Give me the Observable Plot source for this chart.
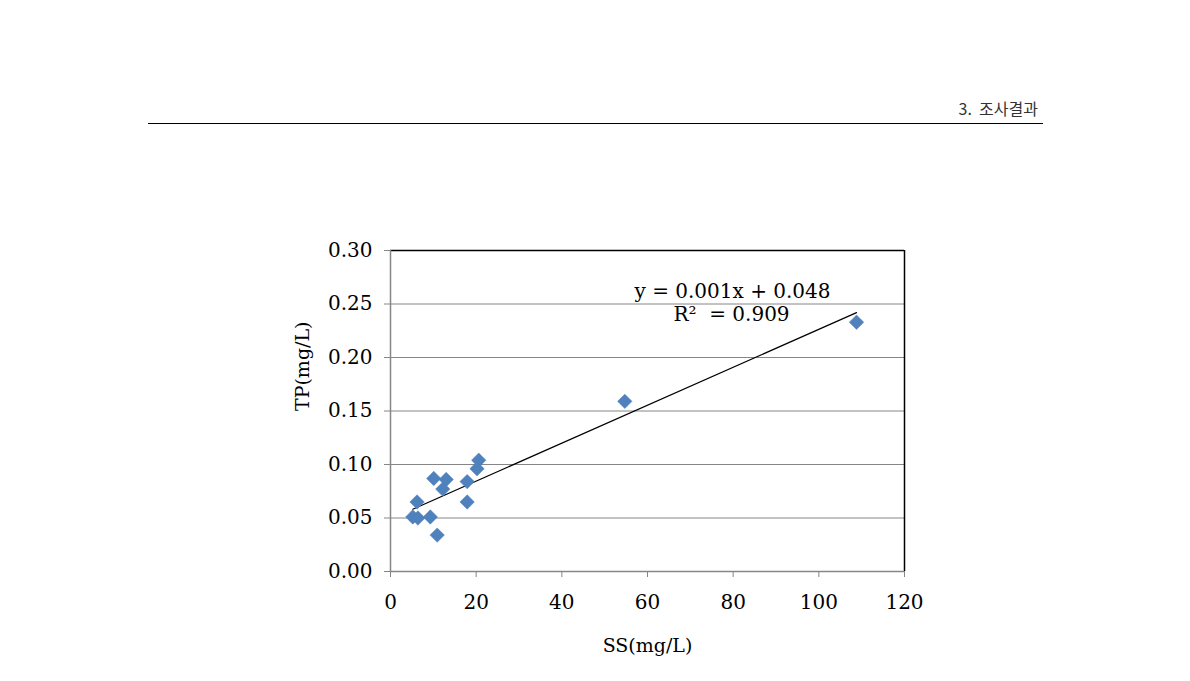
<!DOCTYPE html>
<html>
<head>
<meta charset="utf-8">
<script src="https://cdn.jsdelivr.net/npm/d3@7"></script>
<script src="https://cdn.jsdelivr.net/npm/@observablehq/plot@0.6"></script>
<style>
  html, body { margin: 0; padding: 0; background: #fff; }
  #wrap { position: relative; width: 1190px; height: 681px; }
  #hdr { position: absolute; left: 148px; top: 123px; width: 895px; height: 0; border-top: 1px solid #000; }
  #hdrText { position: absolute; right: 152px; top: 96px; font-family: "Noto Sans CJK KR", "Noto Sans", sans-serif; font-size: 16px; color: #333; white-space: pre; }
  svg { position: absolute; left: 0; top: 0; }
</style>
</head>
<body>
<div id="wrap">
  <div id="hdrText">3.  조사결과</div>
  <div id="hdr"></div>
</div>
<script>
const ss = [20.6, 20.2, 10.1, 13.0, 12.2, 17.9, 17.9, 6.2, 5.2, 6.4, 9.3, 10.9, 54.7, 108.8];
const tp = [0.104, 0.096, 0.087, 0.086, 0.077, 0.084, 0.065, 0.065, 0.051, 0.050, 0.051, 0.034, 0.159, 0.233];
const xTicks = [0, 20, 40, 60, 80, 100, 120];
const yTicks = [0, 0.05, 0.10, 0.15, 0.20, 0.25, 0.30];
const eqLabels = ["y = 0.001x + 0.048", "R\u00B2  = 0.909"];
const xTitle = "SS(mg/L)";
const yTitle = "TP(mg/L)";

const data = ss.map((x, i) => ({x, y: tp[i]}));
const serif = "'DejaVu Serif', 'Liberation Serif', serif";

const chart = Plot.plot({
  width: 1190,
  height: 681,
  marginLeft: 390,
  marginRight: 286,
  marginTop: 250,
  marginBottom: 110,
  style: {fontFamily: serif, fontSize: "20px", color: "#000", background: "transparent"},
  x: {domain: [0, 120], ticks: xTicks, label: null},
  y: {domain: [0, 0.3], ticks: yTicks, label: null},
  marks: [
    Plot.gridY(yTicks.slice(1, -1), {stroke: "#868686", strokeOpacity: 1, strokeWidth: 1}),
    Plot.ruleY([0.3], {stroke: "#000", strokeWidth: 1.5}),
    Plot.ruleX([120], {stroke: "#000", strokeWidth: 1.5}),
    Plot.ruleX([0], {stroke: "#868686", strokeWidth: 1.5}),
    Plot.ruleY([0], {stroke: "#868686", strokeWidth: 1.5}),
    Plot.axisY(yTicks, {tickSize: 6, tickPadding: 12, stroke: "#868686", tickFormat: d3.format(".2f"), fill: "#000", fontSize: 20, label: null}),
    Plot.axisX(xTicks, {tickSize: 6, tickPadding: 17, stroke: "#868686", fill: "#000", fontSize: 20, label: null}),
    Plot.linearRegressionY(data, {x: "x", y: "y", ci: 0, stroke: "#000", strokeWidth: 1.2}),
    Plot.dot(data, {x: "x", y: "y", symbol: "diamond2", r: 6.5, fill: "#4F81BD", stroke: "#4F81BD", strokeWidth: 0.5}),
    Plot.text([eqLabels[0]], {frameAnchor: "top-left", textAnchor: "middle", lineAnchor: "middle", dx: 342, dy: 41, text: d => d, fontSize: 20, fill: "#000"}),
    Plot.text([eqLabels[1]], {frameAnchor: "top-left", textAnchor: "middle", lineAnchor: "middle", dx: 341, dy: 64, text: d => d, fontSize: 20, fill: "#000"}),
    Plot.text([xTitle], {frameAnchor: "bottom", lineAnchor: "middle", dy: 74, text: d => d, fontSize: 19, fill: "#000"}),
    Plot.text([yTitle], {frameAnchor: "left", lineAnchor: "middle", dx: -88, rotate: -90, text: d => d, fontSize: 19, fill: "#000"})
  ]
});
document.getElementById("wrap").prepend(chart);
</script>
</body>
</html>
